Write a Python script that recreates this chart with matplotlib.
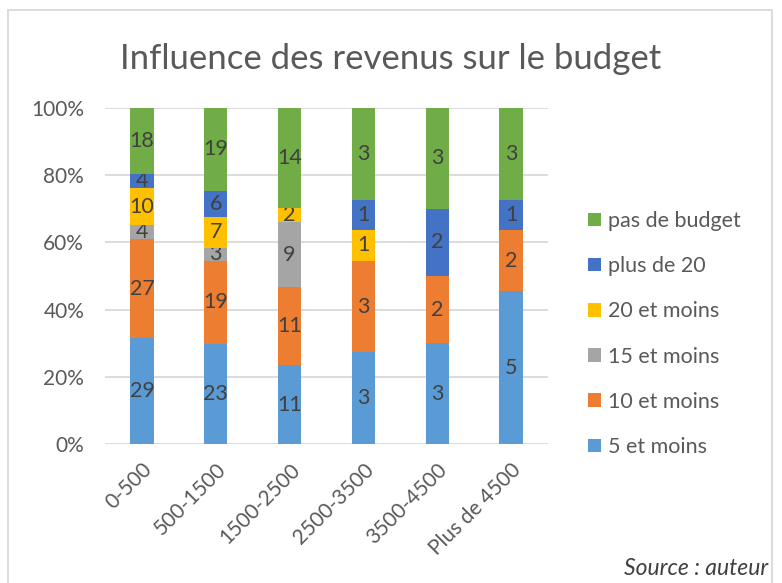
import numpy as np
import matplotlib
matplotlib.use("Agg")
import matplotlib.pyplot as plt
from matplotlib.patches import Rectangle

plt.rcParams['font.family'] = ['Lato', 'DejaVu Sans']

categories = ['0-500', '500-1500', '1500-2500', '2500-3500', '3500-4500', 'Plus de 4500']
series = ['5 et moins', '10 et moins', '15 et moins', '20 et moins', 'plus de 20', 'pas de budget']
moins5 = [29, 23, 11, 3, 3, 5]
moins10 = [27, 19, 11, 3, 2, 2]
moins15 = [4, 3, 9, 0, 0, 0]
moins20 = [10, 7, 2, 1, 0, 0]
plus20 = [4, 6, 0, 1, 2, 1]
pas_budget = [18, 19, 14, 3, 3, 3]
colors = ['#5B9BD5', '#ED7D31', '#A5A5A5', '#FFC000', '#4472C4', '#70AD47']

counts = np.array([moins5, moins10, moins15, moins20, plus20, pas_budget], dtype=float)
totals = counts.sum(axis=0)
pct = counts / totals * 100

fig = plt.figure(figsize=(7.82, 5.83), dpi=100)
ax = fig.add_axes([0.1343, 0.2384, 0.5665, 0.5764])

x = np.arange(len(categories))
bottom = np.zeros(len(categories))
handles = []
for i, name in enumerate(series):
    bars = ax.bar(x, pct[i], 0.315, bottom=bottom, color=colors[i], label=name, zorder=3)
    labels = [str(int(v)) if v > 0 else '' for v in counts[i]]
    ax.bar_label(bars, labels=labels, label_type='center', fontsize=15.5, color='#404040')
    bottom += pct[i]
    handles.append(bars)

ax.set_xlim(-0.5, len(categories) - 0.5)
ax.set_ylim(0, 100)
ax.set_yticks(np.arange(0, 101, 20))
ax.set_yticklabels([f'{v}%' for v in range(0, 101, 20)])
ax.set_xticks(x)
ax.set_xticklabels(categories, rotation=45, ha='right', rotation_mode='anchor')
ax.tick_params(axis='both', length=0, labelsize=15, labelcolor='#595959')
ax.tick_params(axis='y', pad=15)
ax.tick_params(axis='x', pad=11)
ax.grid(axis='y', color='#D9D9D9', linewidth=1.3, zorder=0)
for s in ax.spines.values():
    s.set_visible(False)

leg = fig.legend(handles[::-1], series[::-1], loc='upper left', bbox_to_anchor=(0.752, 0.638),
                 frameon=False, fontsize=15.5, handlelength=0.6, handleheight=0.6,
                 handletextpad=0.33, labelspacing=1.17, labelcolor='#595959',
                 borderpad=0, borderaxespad=0)

fig.text(0.5, 0.882, 'Influence des revenus sur le budget', ha='center', va='baseline',
         fontsize=25, color='#595959')
fig.text(0.982, 0.025, 'Source : auteur', ha='right', va='center', fontsize=16.5,
         style='italic', color='#404040')

fig.patches.append(Rectangle((8 / 782, -0.05), 764 / 782, 1.05 - 10 / 583,
                             transform=fig.transFigure, fill=False,
                             edgecolor='#D9D9D9', linewidth=1.3))

fig.savefig('out.png', dpi=100, facecolor='white')
